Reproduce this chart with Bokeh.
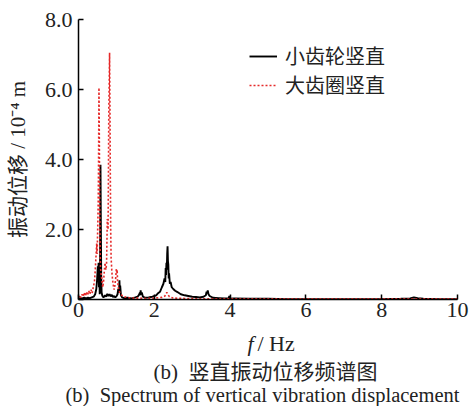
from bokeh.plotting import figure
from bokeh.models import Range1d, FixedTicker, Legend, LegendItem
from bokeh.layouts import column
from bokeh.core.properties import value
from bokeh.embed import file_html
from bokeh.resources import INLINE

# 小齿轮竖直 (pinion, vertical)
f_black = [0.00,0.05,0.10,0.15,0.20,0.25,0.30,0.35,0.40,0.44,0.47,0.49,0.51,0.52,0.53,0.54,0.55,0.56,0.57,0.58,
           0.59,0.60,0.61,0.63,0.66,0.70,0.73,0.76,0.79,0.82,0.85,0.88,0.91,0.94,0.97,1.00,1.03,1.05,1.07,1.08,
           1.09,1.10,1.12,1.15,1.20,1.30,1.40,1.50,1.56,1.60,1.62,1.63,1.64,1.65,1.67,1.70,1.76,1.85,1.95,2.05,
           2.10,2.15,2.20,2.24,2.27,2.29,2.30,2.31,2.32,2.33,2.34,2.35,2.36,2.37,2.38,2.39,2.41,2.43,2.46,2.50,
           2.55,2.60,2.70,2.80,2.90,3.00,3.10,3.20,3.30,3.36,3.38,3.40,3.41,3.43,3.46,3.55,3.70,3.85,3.96,3.98,
           4.00,4.10,4.50,5.00,5.50,6.00,6.50,7.00,7.50,8.00,8.50,8.75,8.85,8.95,9.10,9.50,10.00]
a_black = [0.02,0.04,0.03,0.05,0.03,0.05,0.04,0.06,0.08,0.15,0.30,0.55,0.95,0.60,1.05,0.35,0.80,0.15,1.20,3.85,
           2.10,0.60,0.20,0.10,0.06,0.12,0.08,0.16,0.10,0.15,0.09,0.13,0.07,0.10,0.06,0.09,0.15,0.30,0.20,0.55,
           0.25,0.40,0.12,0.06,0.04,0.05,0.03,0.06,0.08,0.14,0.20,0.12,0.26,0.15,0.20,0.08,0.05,0.06,0.08,0.12,
           0.18,0.22,0.35,0.45,0.60,0.50,0.90,0.70,1.05,0.85,1.30,1.52,1.10,1.00,0.60,0.75,0.45,0.50,0.35,0.30,
           0.25,0.22,0.15,0.12,0.10,0.08,0.07,0.06,0.08,0.12,0.22,0.18,0.26,0.15,0.10,0.05,0.04,0.03,0.03,0.10,
           0.02,0.03,0.02,0.02,0.01,0.01,0.01,0.01,0.01,0.01,0.02,0.03,0.06,0.04,0.02,0.01,0.01]

# 大齿圈竖直 (ring gear, vertical)
f_red = [0.00,0.03,0.06,0.09,0.12,0.15,0.18,0.21,0.24,0.27,0.30,0.33,0.36,0.39,0.42,0.44,0.46,0.48,0.49,0.50,
         0.51,0.52,0.53,0.54,0.55,0.56,0.57,0.58,0.60,0.62,0.64,0.66,0.68,0.70,0.72,0.74,0.76,0.78,0.79,0.80,
         0.81,0.82,0.83,0.84,0.85,0.86,0.88,0.90,0.92,0.94,0.96,0.98,1.00,1.01,1.02,1.03,1.05,1.07,1.10,1.14,
         1.20,1.30,1.45,1.60,1.80,2.00,2.20,2.28,2.33,2.36,2.40,2.50,2.80,3.20,3.60,4.00,5.00,6.00,7.00,8.00,
         9.00,10.00]
a_red = [0.05,0.12,0.06,0.15,0.08,0.20,0.10,0.22,0.12,0.25,0.15,0.28,0.18,0.35,0.50,0.80,1.20,1.60,1.30,1.70,
         2.20,2.80,4.00,6.05,4.50,2.50,1.50,0.90,0.70,0.55,0.35,0.50,0.80,1.05,0.85,1.00,2.30,2.00,3.50,5.50,
         6.20,7.05,5.50,3.50,2.00,1.20,0.80,0.55,0.40,0.28,0.40,0.60,0.88,0.75,0.85,0.55,0.35,0.25,0.18,0.12,
         0.08,0.05,0.04,0.04,0.03,0.04,0.06,0.10,0.20,0.14,0.08,0.04,0.03,0.02,0.02,0.02,0.02,0.02,0.02,0.02,
         0.02,0.02]

x_ticks = [0, 2, 4, 6, 8, 10]
y_ticks = [0, 2, 4, 6, 8]
y_tick_labels = ["0", "2.0", "4.0", "6.0", "8.0"]
series_names = ["小齿轮竖直", "大齿圈竖直"]
y_title = "振动位移 / 10⁻⁴ m"
caption_cn = "(b)\u00a0\u00a0竖直振动位移频谱图"
caption_en = "(b)\u00a0\u00a0Spectrum of vertical vibration displacement"

SERIF = "Liberation Serif, Noto Sans CJK SC"
CJK = "Noto Sans CJK SC"
TXT = "#222222"

p = figure(width=473, height=327, output_backend="svg", toolbar_location=None,
           x_range=Range1d(0, 10), y_range=Range1d(0, 8),
           min_border_left=78, min_border_right=16, min_border_top=19, min_border_bottom=28)
p.frame_align = False
p.background_fill_color = "white"
p.border_fill_color = "white"
p.outline_line_color = None
p.grid.visible = False

for ax in (p.xaxis[0], p.yaxis[0]):
    ax.axis_line_width = 1.5
    ax.axis_line_color = "black"
    ax.major_tick_in = 5
    ax.major_tick_out = 0
    ax.major_tick_line_width = 1.5
    ax.minor_tick_line_color = None
    ax.major_label_text_font = SERIF
    ax.major_label_text_font_size = "22px"
    ax.major_label_text_color = TXT

p.xaxis[0].ticker = FixedTicker(ticks=x_ticks)
p.xaxis[0].major_label_standoff = 3
p.yaxis[0].ticker = FixedTicker(ticks=y_ticks)
p.yaxis[0].major_label_overrides = {t: s for t, s in zip(y_ticks, y_tick_labels)}
p.yaxis[0].major_label_standoff = 6
p.yaxis[0].axis_label = y_title
p.yaxis[0].axis_label_text_font = SERIF
p.yaxis[0].axis_label_text_font_style = "normal"
p.yaxis[0].axis_label_text_font_size = "21px"
p.yaxis[0].axis_label_text_color = TXT
p.yaxis[0].axis_label_standoff = 12

r1 = p.line(f_black, a_black, line_color="black", line_width=1.9)
r2 = p.line(f_red, a_red, line_color="#e52a2a", line_width=1.6, line_dash="2 2")

legend = Legend(items=[LegendItem(label=series_names[0], renderers=[r1]),
                       LegendItem(label=series_names[1], renderers=[r2])],
                location=(171, 200), border_line_color=None, background_fill_alpha=0,
                padding=0, margin=0, spacing=-4, glyph_width=28, glyph_height=20,
                label_height=20, label_standoff=8,
                label_text_font=CJK, label_text_font_size="20px", label_text_color=TXT)
p.add_layout(legend)

# caption strip below the chart (coordinates in pixels of the strip)
p2 = figure(width=473, height=79, output_backend="svg", toolbar_location=None,
            x_range=Range1d(0, 473), y_range=Range1d(79, 0),
            x_axis_location=None, y_axis_location=None,
            min_border=0, min_border_left=0, min_border_right=0, min_border_top=0, min_border_bottom=0)
p2.frame_align = False
p2.background_fill_color = "white"
p2.border_fill_color = "white"
p2.outline_line_color = None
p2.grid.visible = False

p2.text(x=[253], y=[16], text=["f"], text_font=value(SERIF), text_font_style="italic",
        text_font_size="22px", text_align="right", text_baseline="middle", text_color=TXT)
p2.text(x=[257], y=[16], text=["/ Hz"], text_font=value(SERIF),
        text_font_size="22px", text_align="left", text_baseline="middle", text_color=TXT)
p2.text(x=[153], y=[44], text=[caption_cn], text_font=value(SERIF),
        text_font_size="21px", text_align="left", text_baseline="middle", text_color=TXT)
p2.text(x=[65], y=[67], text=[caption_en], text_font=value(SERIF),
        text_font_size="20.5px", text_align="left", text_baseline="middle", text_color=TXT)

layout = column(p, p2, spacing=0)
open("out.html", "w").write(file_html(layout, INLINE))
